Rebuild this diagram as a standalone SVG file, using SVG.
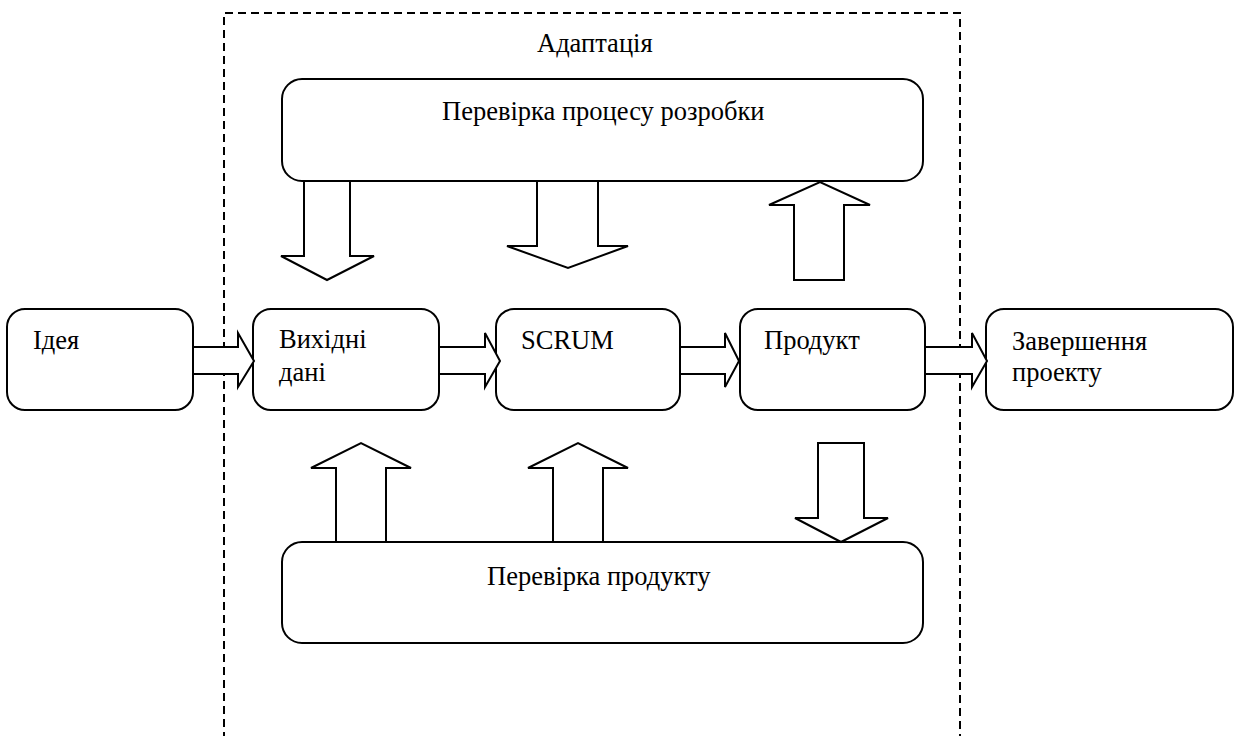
<svg xmlns="http://www.w3.org/2000/svg" width="1239" height="736" viewBox="0 0 1239 736">
<style>
.box{fill:#fff;stroke:#000;stroke-width:2}
.arr{fill:#fff;stroke:#000;stroke-width:2;stroke-linejoin:miter}
.t{font-family:"Liberation Serif","Times New Roman",serif;font-size:26.5px;fill:#000}
.frame{fill:none;stroke:#000;stroke-width:2;stroke-dasharray:8 5}
</style>
<rect width="1239" height="736" fill="#fff"/>
<g id="adaptation">
<path class="frame" d="M224,740 V13 H960 V740"/>
<text class="t" x="537" y="52">Адаптація</text>
</g>
<g id="process-check">
<rect class="box" x="282" y="79" width="641" height="102" rx="20"/>
<text class="t" x="442" y="120">Перевірка процесу розробки</text>
</g>
<g id="product-check">
<rect class="box" x="282" y="542" width="641" height="101" rx="20"/>
<text class="t" x="487" y="585">Перевірка продукту</text>
</g>
<g id="idea">
<rect class="box" x="7" y="309" width="186" height="101" rx="18"/>
<text class="t" x="33" y="349">Ідея</text>
</g>
<g id="input">
<rect class="box" x="253" y="309" width="186" height="101" rx="18"/>
<text class="t" x="279" y="348">Вихідні</text>
<text class="t" x="279" y="381">дані</text>
</g>
<g id="scrum">
<rect class="box" x="496" y="309" width="184" height="101" rx="18"/>
<text class="t" x="521" y="349">SCRUM</text>
</g>
<g id="product">
<rect class="box" x="740" y="309" width="185" height="101" rx="18"/>
<text class="t" x="764" y="349">Продукт</text>
</g>
<g id="finish">
<rect class="box" x="986" y="309" width="247" height="101" rx="18"/>
<text class="t" x="1012" y="350">Завершення</text>
<text class="t" x="1012" y="381">проекту</text>
</g>
<g id="connectors">
<polygon class="arr" points="193,347 238,347 238,333 254,361 238,387 238,374 193,374"/>
<polygon class="arr" points="439,347 485,347 485,333 500,361 485,387 485,374 439,374"/>
<polygon class="arr" points="680,347 725,347 725,333 739,361 725,387 725,374 680,374"/>
<polygon class="arr" points="925,347 972,347 972,333 987,361 972,387 972,374 925,374"/>
<polygon class="arr" points="304,181 350,181 350,256 374,256 327,280 281,256 304,256"/>
<polygon class="arr" points="537,181 598,181 598,246 628,246 568,268 507,246 537,246"/>
<polygon class="arr" points="794,280 844,280 844,205 870,205 820,182 769,205 794,205"/>
<polygon class="arr" points="336,542 386,542 386,468 411,468 361,443 311,468 336,468"/>
<polygon class="arr" points="553,542 603,542 603,468 628,468 578,443 528,468 553,468"/>
<polygon class="arr" points="818,443 864,443 864,518 888,518 841,542 795,518 818,518"/>
</g>
</svg>
